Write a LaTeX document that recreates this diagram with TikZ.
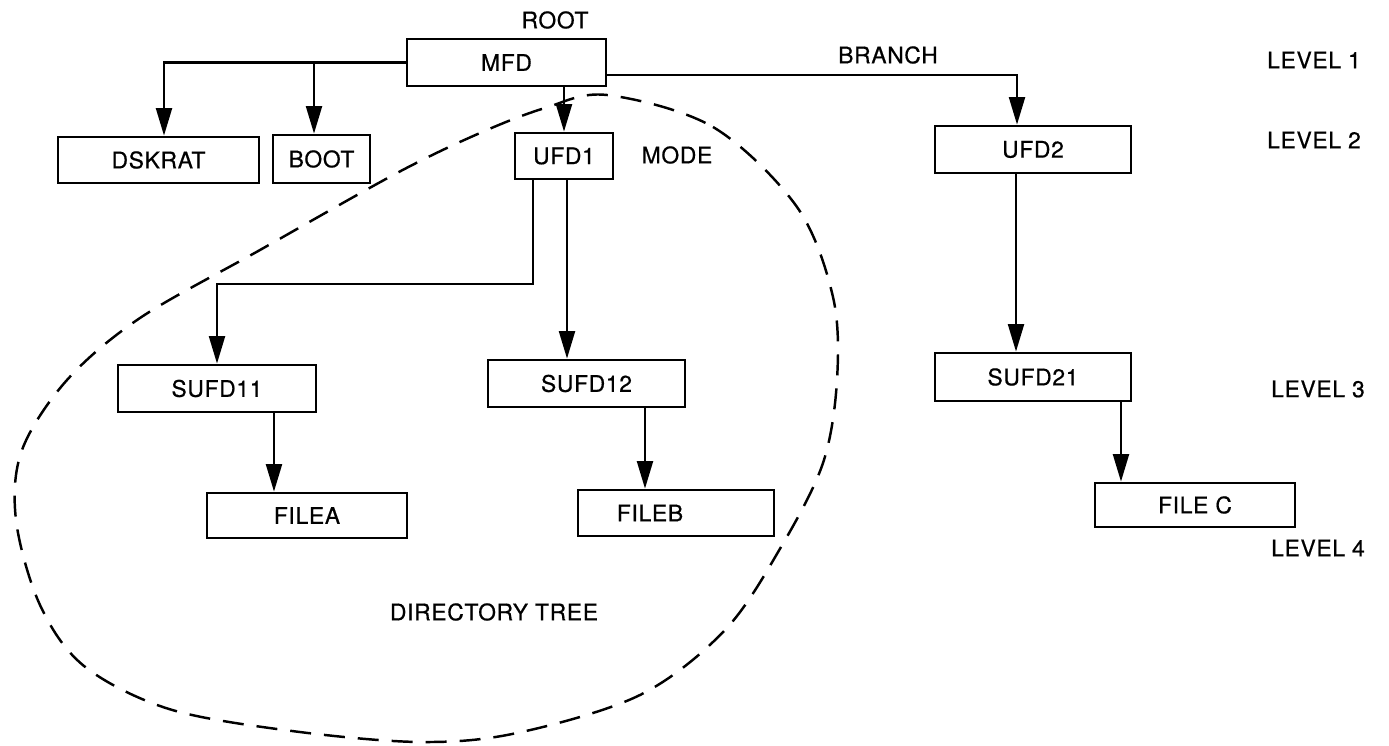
\documentclass[tikz,border=0pt]{standalone}
\usepackage{fontspec}
\setmainfont{TeX Gyre Heros}[LetterSpace=3,FakeBold=0.6]
\usetikzlibrary{arrows.meta,calc}
\begin{document}
\begin{tikzpicture}[x=0.02cm,y=-0.02cm,
  box/.style={draw, line width=1.6pt, inner sep=0pt, font=\fontsize{13}{15}\selectfont},
  lbl/.style={inner sep=0pt, font=\fontsize{13}{15}\selectfont},
  arr/.style={line width=1.2pt, -{Triangle[length=0.55cm,width=0.32cm]}},
  tree/.style={line width=1.4pt, dash pattern=on 0.42cm off 0.26cm}]
\useasboundingbox (0,0) rectangle (1389,746);

% boxes
\node[box, minimum width=3.98cm, minimum height=0.94cm] (mfd) at (506.5,62.5) {MFD};
\node[box, minimum width=4.02cm, minimum height=0.92cm] (dskrat) at (158.5,160) {DSKRAT};
\node[box, minimum width=1.94cm, minimum height=0.96cm] (boot) at (321.5,159) {BOOT};
\node[box, minimum width=1.96cm, minimum height=0.92cm] (ufd1) at (564,156) {UFD1};
\node[box, minimum width=3.92cm, minimum height=0.94cm] (ufd2) at (1033,149.5) {UFD2};
\node[box, minimum width=3.96cm, minimum height=0.94cm] (sufd11) at (217,388.5) {SUFD11};
\node[box, minimum width=3.94cm, minimum height=0.94cm] (sufd12) at (586.5,383.5) {SUFD12};
\node[box, minimum width=3.92cm, minimum height=0.96cm] (sufd21) at (1033,377) {SUFD21};
\node[box, minimum width=4.00cm, minimum height=0.90cm] (filea) at (307,515.5) {FILEA};
\node[box, minimum width=3.92cm, minimum height=0.92cm] (fileb) at (676,513) {FILEB\hspace*{1.04cm}};
\node[box, minimum width=4.00cm, minimum height=0.88cm] (filec) at (1195,505) {FILE C};

% labels
\node[lbl] (root) at (555,20) {ROOT};
\node[lbl] (branch) at (888,55) {BRANCH};
\node[lbl] (mode) at (677,155) {MODE};
\node[lbl] (lv1) at (1314,60) {LEVEL 1};
\node[lbl] (lv2) at (1314,140) {LEVEL 2};
\node[lbl] (lv3) at (1318,389) {LEVEL 3};
\node[lbl] (lv4) at (1318,548) {LEVEL 4};
\node[lbl] (dt) at (494,612) {DIRECTORY TREE};

% connectors
\coordinate (dskin) at ([xshift=0.11cm]dskrat.north);
\draw[arr] (mfd.west) -| (dskin);
\coordinate (bootin) at ([xshift=-0.15cm]boot.north);
\draw[arr] (bootin |- mfd.west) -- (bootin);
\draw[arr] (mfd.south -| ufd1.north) -- (ufd1.north);
\coordinate (mfdr) at ([yshift=-0.25cm]mfd.east);
\coordinate (ufd2in) at ([xshift=-0.32cm]ufd2.north);
\draw[arr] (mfdr) -| (ufd2in);

\coordinate (u1a) at ([xshift=-0.62cm]ufd1.south);
\coordinate (kink) at (0,284);
\draw[arr] (u1a) -- (u1a |- kink) -| (sufd11.north);
\coordinate (u1b) at ([xshift=0.06cm]ufd1.south);
\draw[arr] (u1b) -- (u1b |- sufd12.north);

\coordinate (s11) at ([xshift=1.14cm]sufd11.south);
\draw[arr] (s11) -- (s11 |- filea.north);
\coordinate (s12) at ([xshift=1.17cm]sufd12.south);
\draw[arr] (s12) -- (s12 |- fileb.north);
\coordinate (u2) at ([xshift=-0.34cm]ufd2.south);
\draw[arr] (u2) -- (u2 |- sufd21.north);
\coordinate (s21) at ([xshift=1.76cm]sufd21.south);
\draw[arr] (s21) -- (s21 |- filec.north);

% directory tree outline
\draw[tree] plot[smooth cycle, tension=0.55] coordinates {
 (607,95) (713,127) (797,207) (833,297) (837,380) (823,463) (781,547)
 (725,630) (640,695) (517,733) (420,742) (292,731) (169,709) (84,666)
 (40,605) (16,520) (22,450) (67,380) (140,318) (260,250) (397,173)
 (480,133) (545,108)};
\end{tikzpicture}
\end{document}
